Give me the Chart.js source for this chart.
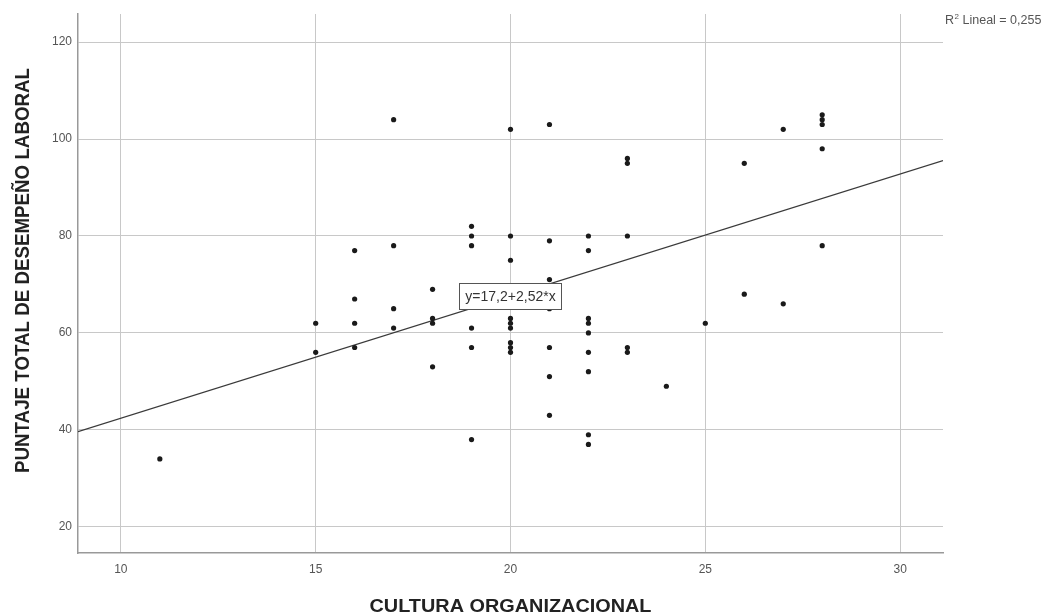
<!DOCTYPE html>
<html lang="es">
<head>
<meta charset="utf-8">
<title>Cultura organizacional vs desempeño laboral</title>
<script src="https://cdn.jsdelivr.net/npm/chart.js@4.4.1/dist/chart.umd.min.js"></script>
<style>
  html, body { margin: 0; padding: 0; background: #ffffff; }
  #wrap { width: 1052px; height: 614px; }
  canvas { display: block; }
</style>
</head>
<body>
<div id="wrap"><canvas id="chart" width="1052" height="614"></canvas></div>
<script>
// Cultura organizacional (x) and puntaje de desempeño laboral (y), one pair per respondent
const culturaX = [
  11,
  15, 15,
  16, 16, 16, 16,
  17, 17, 17, 17,
  18, 18, 18, 18,
  19, 19, 19, 19, 19, 19,
  20, 20, 20, 20, 20, 20, 20, 20, 20,
  21, 21, 21, 21, 21, 21, 21,
  22, 22, 22, 22, 22, 22, 22, 22, 22,
  23, 23, 23, 23, 23,
  24,
  25,
  26, 26,
  27, 27,
  28, 28, 28, 28, 28
];
const desempenoY = [
  34,
  62, 56,
  77, 67, 62, 57,
  104, 78, 65, 61,
  69, 63, 62, 53,
  82, 80, 78, 61, 57, 38,
  102, 80, 75, 63, 62, 61, 58, 57, 56,
  103, 79, 71, 65, 57, 51, 43,
  80, 77, 63, 62, 60, 56, 52, 39, 37,
  96, 95, 80, 57, 56,
  49,
  62,
  95, 68,
  102, 66,
  105, 104, 103, 98, 78
];

// Linear fit reported for the data
const fitIntercept = 17.2;
const fitSlope = 2.52;
const fitR2 = 0.255;

// Axis ranges and tick labels
const xRange = [8.9, 31.1];
const yRange = [14.6, 125.8];
const xTicks = [10, 15, 20, 25, 30];
const yTicks = [20, 40, 60, 80, 100, 120];

const xTitle = 'CULTURA ORGANIZACIONAL';
const yTitle = 'PUNTAJE TOTAL DE DESEMPEÑO LABORAL';

const FONT = '"Liberation Sans", Arial, sans-serif';
const fmt = v => String(v).replace('.', ',');

const points = culturaX.map((x, i) => ({ x: x, y: desempenoY[i] }));
const fitLine = xRange.map(x => ({ x: x, y: fitIntercept + fitSlope * x }));

// Draws a caps-only string centred on (cx, cy), stretched or squeezed to a given length
function drawFittedText(ctx, text, cx, cy, size, weight, length, angle) {
  ctx.save();
  ctx.translate(cx, cy);
  ctx.rotate(angle);
  ctx.font = weight + ' ' + size + 'px ' + FONT;
  const w = ctx.measureText(text).width;
  ctx.scale(length / w, 1);
  ctx.textAlign = 'center';
  ctx.textBaseline = 'alphabetic';
  ctx.fillText(text, 0, size * 0.716 / 2);
  ctx.restore();
}

// Equation label in a white box on the fit line, R² note and both axis titles
const annotations = {
  id: 'annotations',
  afterDatasetsDraw(chart) {
    const { ctx, scales, chartArea } = chart;
    const ax = 20;
    const px = scales.x.getPixelForValue(ax);
    const py = scales.y.getPixelForValue(fitIntercept + fitSlope * ax);
    const label = 'y=' + fmt(fitIntercept) + '+' + fmt(fitSlope) + '*x';
    ctx.save();
    ctx.font = '14px ' + FONT;
    const w = Math.round(ctx.measureText(label).width + 12);
    const h = 26;
    const bx = Math.round(px - w / 2) + 0.5;
    const by = Math.round(py - h / 2) + 0.5;
    ctx.fillStyle = '#ffffff';
    ctx.fillRect(bx, by, w, h);
    ctx.strokeStyle = '#555555';
    ctx.lineWidth = 1;
    ctx.strokeRect(bx, by, w, h);
    ctx.fillStyle = '#333333';
    ctx.textAlign = 'center';
    ctx.textBaseline = 'middle';
    ctx.fillText(label, px, py + 1);

    // R² note at the top right
    ctx.fillStyle = '#555555';
    ctx.textAlign = 'left';
    ctx.textBaseline = 'middle';
    const rx = chartArea.right + 2;
    const ry = chartArea.top + 7;
    ctx.font = '12.5px ' + FONT;
    ctx.fillText('R', rx, ry);
    const rw = ctx.measureText('R').width;
    ctx.font = '8px ' + FONT;
    ctx.fillText('2', rx + rw + 0.5, ry - 4);
    ctx.font = '12.5px ' + FONT;
    ctx.fillText(' Lineal = ' + fmt(fitR2), rx + rw + 5, ry);
    ctx.restore();

    // axis titles
    ctx.save();
    ctx.fillStyle = '#222222';
    const midX = (chartArea.left + chartArea.right) / 2;
    drawFittedText(ctx, xTitle, midX, 605, 18.5, 'bold', 282, 0);
    drawFittedText(ctx, yTitle, 21.5, 270.5, 20, 'bold', 405, -Math.PI / 2);
    ctx.restore();
  }
};

new Chart(document.getElementById('chart'), {
  type: 'scatter',
  data: {
    datasets: [
      {
        type: 'line',
        data: fitLine,
        borderColor: '#3a3a3a',
        borderWidth: 1.2,
        pointRadius: 0,
        fill: false,
        order: 2
      },
      {
        data: points,
        pointRadius: 2.6,
        pointBackgroundColor: '#1a1a1a',
        pointBorderWidth: 0,
        order: 1
      }
    ]
  },
  options: {
    responsive: false,
    animation: false,
    events: [],
    layout: { padding: { left: 0, top: 14, right: 109, bottom: 0 } },
    plugins: {
      legend: { display: false },
      tooltip: { enabled: false }
    },
    scales: {
      x: {
        type: 'linear',
        min: xRange[0],
        max: xRange[1],
        afterBuildTicks: s => { s.ticks = xTicks.map(v => ({ value: v })); },
        afterFit: s => { s.height = 61; },
        grid: { color: '#c8c8c8', lineWidth: 1, drawTicks: false },
        border: { color: '#999999', width: 1.5 },
        ticks: {
          padding: 9,
          maxRotation: 0,
          color: '#555555',
          font: { family: FONT, size: 12 }
        }
      },
      y: {
        type: 'linear',
        min: yRange[0],
        max: yRange[1],
        afterBuildTicks: s => { s.ticks = yTicks.map(v => ({ value: v })); },
        afterFit: s => { s.width = 78; },
        grid: { color: '#c8c8c8', lineWidth: 1, drawTicks: false },
        border: { color: '#999999', width: 1.5 },
        ticks: {
          padding: 6,
          color: '#555555',
          font: { family: FONT, size: 12 }
        }
      }
    }
  },
  plugins: [annotations]
});
</script>
</body>
</html>
